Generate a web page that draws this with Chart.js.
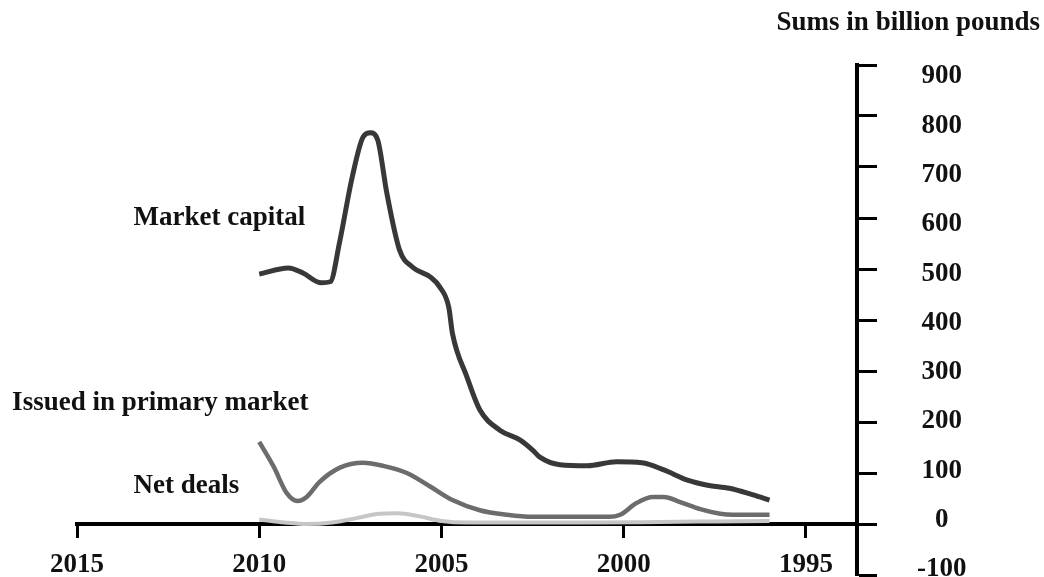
<!DOCTYPE html>
<html>
<head>
<meta charset="utf-8">
<script src="https://cdn.jsdelivr.net/npm/chart.js@4"></script>
<style>
  html, body { margin: 0; padding: 0; background: #ffffff; }
  #wrap { width: 1044px; height: 577px; }
</style>
</head>
<body>
<div id="wrap"><canvas id="c" width="1044" height="577"></canvas></div>
<script>
// ---- Data ----
const capYears = [2010.0, 2009.2, 2008.8, 2008.3, 2008.05, 2007.8, 2007.45, 2007.15, 2006.95, 2006.75, 2006.5, 2006.15, 2005.8, 2005.3, 2005.05, 2004.8, 2004.7, 2004.3, 2003.95, 2003.4, 2002.85, 2002.5, 2002.3, 2001.75, 2001.0, 2000.2, 1999.5, 1998.9, 1998.25, 1997.7, 1997.1, 1996.45, 1996.0];
const capValues = [490, 502, 492, 473, 475, 551, 680, 759, 767, 753, 649, 537, 504, 484, 465, 425, 374, 288, 224, 184, 165, 145, 131, 116, 114, 122, 120, 106, 86, 76, 70, 57, 47];

const primYears = [2010.0, 2009.6, 2009.25, 2008.95, 2008.7, 2008.35, 2007.8, 2007.15, 2006.6, 2005.95, 2005.3, 2004.7, 2003.95, 2003.2, 2002.5, 2001.95, 2000.4, 2000.1, 1999.65, 1999.2, 1998.9, 1998.45, 1997.9, 1997.35, 1997.0, 1996.0];
const primValues = [161, 112, 61, 45, 53, 82, 110, 120, 114, 100, 73, 47, 27, 18, 14, 14, 14, 18, 41, 53, 53, 43, 29, 20, 18, 18];

const netYears = [2010.0, 2009.3, 2008.7, 2008.0, 2007.3, 2006.7, 2006.2, 2005.6, 2005.0, 2004.3, 2003.0, 2001.0, 1999.0, 1997.5, 1996.0];
const netValues = [9, 3, 0, 3, 12, 20, 21, 15, 6, 3, 3, 3, 4, 5, 6];

const seriesNames = ['Market capital', 'Issued in primary market', 'Net deals'];
const xTickYears = [2015, 2010, 2005, 2000, 1995];
const yTickValues = [-100, 0, 100, 200, 300, 400, 500, 600, 700, 800, 900];
const yTitle = 'Sums in billion pounds';

// label anchors in data coordinates (year, value) – text left / baseline
const labelAnchors = [
  { text: seriesNames[0], year: 2013.45, value: 586 },
  { text: seriesNames[1], year: 2016.78, value: 224 },
  { text: seriesNames[2], year: 2013.45, value: 61 }
];

const toPoints = (xs, ys) => xs.map((x, i) => ({ x: x, y: ys[i] }));

const serif = '"Liberation Serif", "Times New Roman", serif';
const textColor = '#111111';

const seriesLabels = {
  id: 'seriesLabels',
  afterDatasetsDraw(chart) {
    const ctx = chart.ctx;
    const xs = chart.scales.x, ys = chart.scales.y;
    ctx.save();
    ctx.font = 'bold 27px ' + serif;
    ctx.fillStyle = textColor;
    ctx.textAlign = 'left';
    ctx.textBaseline = 'alphabetic';
    labelAnchors.forEach(a => {
      ctx.fillText(a.text, xs.getPixelForValue(a.year), ys.getPixelForValue(a.value));
    });
    ctx.restore();
  }
};

new Chart(document.getElementById('c'), {
  type: 'line',
  data: {
    datasets: [
      {
        label: seriesNames[0],
        data: toPoints(capYears, capValues),
        borderColor: '#383838',
        borderWidth: 5,
        pointRadius: 0,
        cubicInterpolationMode: 'monotone',
        fill: false
      },
      {
        label: seriesNames[1],
        data: toPoints(primYears, primValues),
        borderColor: '#6c6c6c',
        borderWidth: 4.5,
        pointRadius: 0,
        cubicInterpolationMode: 'monotone',
        fill: false
      },
      {
        label: seriesNames[2],
        data: toPoints(netYears, netValues),
        borderColor: '#c6c6c6',
        borderWidth: 4,
        pointRadius: 0,
        cubicInterpolationMode: 'monotone',
        fill: false
      }
    ]
  },
  options: {
    responsive: false,
    animation: false,
    devicePixelRatio: 1,
    layout: { padding: { left: 77, right: 4, top: 0, bottom: 2 } },
    plugins: {
      legend: { display: false },
      tooltip: { enabled: false },
      title: {
        display: true,
        text: yTitle,
        align: 'end',
        color: textColor,
        font: { family: serif, size: 27, weight: 'bold', lineHeight: 1.2 },
        padding: { top: 7, bottom: 25.6 }
      }
    },
    scales: {
      x: {
        type: 'linear',
        reverse: true,
        min: 1993.6,
        max: 2015,
        position: { y: 0 },
        afterBuildTicks: s => { s.ticks = xTickYears.map(v => ({ value: v })); },
        grid: { drawOnChartArea: false, drawTicks: true, tickLength: 12, tickWidth: 3, tickColor: '#000', color: '#000' },
        border: { display: true, color: '#000', width: 4 },
        ticks: {
          autoSkip: false,
          maxRotation: 0,
          padding: 13,
          color: textColor,
          font: { family: serif, size: 27, weight: 'bold' },
          callback: v => String(v)
        }
      },
      // axis line and tick marks
      y: {
        type: 'linear',
        position: 'right',
        min: -100,
        max: 900,
        afterBuildTicks: s => { s.ticks = yTickValues.map(v => ({ value: v })); },
        afterFit: s => { s.width = 20; s.paddingTop = 0; s.paddingBottom = 0; },
        grid: { drawOnChartArea: false, drawTicks: true, tickLength: 20, tickWidth: 3, tickColor: '#000', color: '#000' },
        border: { display: true, color: '#000', width: 4 },
        ticks: { display: false }
      },
      // tick labels (the printed labels sit on a slightly tighter spacing than the tick marks)
      yLabels: {
        type: 'linear',
        position: 'right',
        min: -111.4,
        max: 923.1,
        afterBuildTicks: s => { s.ticks = yTickValues.map(v => ({ value: v })); },
        afterFit: s => { s.width = 163; s.paddingTop = 0; s.paddingBottom = 0; },
        grid: { display: false, drawTicks: false },
        border: { display: false },
        ticks: {
          autoSkip: false,
          padding: 40,
          crossAlign: 'center',
          color: textColor,
          font: { family: serif, size: 27, weight: 'bold' },
          callback: v => String(v)
        }
      }
    }
  },
  plugins: [seriesLabels]
});
</script>
</body>
</html>
